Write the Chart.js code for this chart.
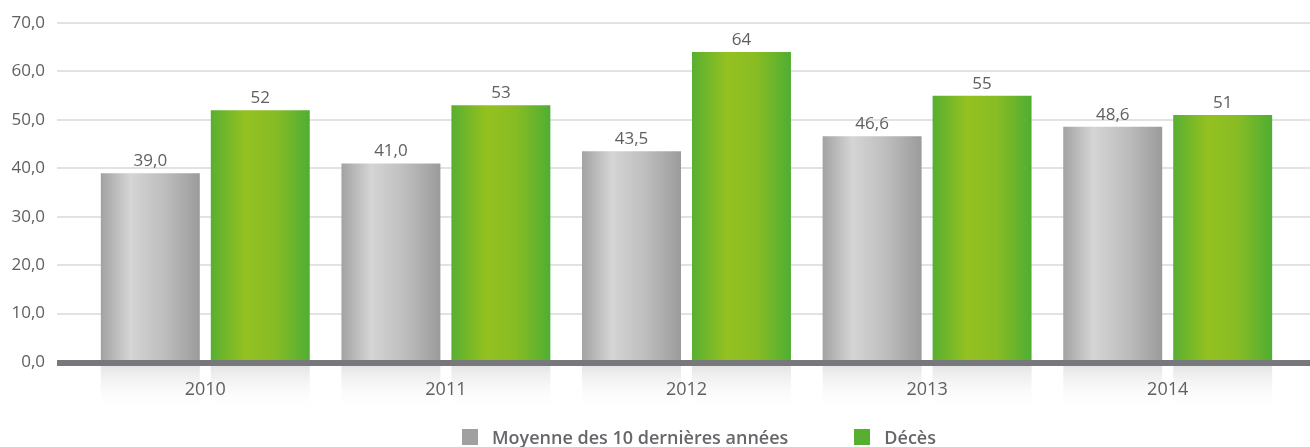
<!DOCTYPE html>
<html lang="fr">
<head>
    <meta charset="UTF-8">
    <title>Décès</title>
    <script src="https://cdn.jsdelivr.net/npm/chart.js"></script>
    <style>
        body { margin: 0; background: #fff; }
        .wrap { position: relative; width: 1310px; height: 447px; }
        .legend {
            position: absolute; top: 425px; left: 462px;
            font-family: "Open Sans", sans-serif; font-size: 18px; font-weight: 600;
            color: #66676a; display: flex; align-items: center;
        }
        .legend span.box { display: inline-block; width: 16px; height: 16px; margin-right: 14px; }
        .legend .item { display: flex; align-items: center; }
        .legend .item + .item { margin-left: 66px; }
    </style>
</head>
<body>
<div class="wrap">
    <canvas id="chart" width="1310" height="447"></canvas>
    <div class="legend" id="legend"></div>
</div>
<script>
const years = ['2010', '2011', '2012', '2013', '2014'];
const moyenne = [39.0, 41.0, 43.5, 46.6, 48.6];
const deces = [52, 53, 64, 55, 51];
const yTicks = [0, 10, 20, 30, 40, 50, 60, 70];

const seriesNames = ['Moyenne des 10 dernières années', 'Décès'];
const legendColors = ['#a0a0a0', '#58ae31'];

const textColor = '#5f6063';
const CAT_PCT = 0.914, BAR_PCT = 0.9;

function barGradient(ctx) {
    const chart = ctx.chart;
    const xs = chart.scales.x;
    if (!chart.chartArea || !xs) return legendColors[ctx.datasetIndex];
    const catW = chart.chartArea.width / years.length;
    const slot = catW * CAT_PCT / 2;
    const w = slot * BAR_PCT;
    const cx = xs.getPixelForValue(ctx.dataIndex) + (ctx.datasetIndex - 0.5) * slot;
    const g = chart.ctx.createLinearGradient(cx - w / 2, 0, cx + w / 2, 0);
    if (ctx.datasetIndex === 0) {
        g.addColorStop(0, '#a2a2a2');
        g.addColorStop(0.3, '#d5d5d5');
        g.addColorStop(0.65, '#bdbdbd');
        g.addColorStop(1, '#9b9b9b');
    } else {
        g.addColorStop(0, '#58af31');
        g.addColorStop(0.35, '#94c120');
        g.addColorStop(0.65, '#88bc24');
        g.addColorStop(1, '#4fae33');
    }
    return g;
}

// grille étendue + ligne du zéro + reflets
const decor = {
    id: 'decor',
    beforeDraw(chart) {
        const c = chart.ctx, y = chart.scales.y;
        c.save();
        c.strokeStyle = '#e2e2e2';
        c.lineWidth = 2;
        yTicks.forEach(t => {
            if (t === 0) return;
            const py = Math.round(y.getPixelForValue(t));
            c.beginPath(); c.moveTo(57, py); c.lineTo(1310, py); c.stroke();
        });
        // reflets sous les barres
        const base = y.getPixelForValue(0) + 3;
        chart.data.datasets.forEach((ds, i) => {
            chart.getDatasetMeta(i).data.forEach(el => {
                const g = c.createLinearGradient(0, base, 0, base + 46);
                g.addColorStop(0, '#e4e4e4');
                g.addColorStop(1, 'rgba(255,255,255,0)');
                c.fillStyle = g;
                c.fillRect(el.x - el.width / 2, base, el.width, 46);
            });
        });
        c.restore();
    },
    afterDatasetsDraw(chart) {
        const c = chart.ctx, y = chart.scales.y;
        c.save();
        const py = y.getPixelForValue(0);
        c.fillStyle = '#77787b';
        c.fillRect(57, py - 2, 1310 - 57, 6);
        // étiquettes
        c.fillStyle = textColor;
        c.font = '17px "Open Sans", sans-serif';
        c.textAlign = 'center';
        c.textBaseline = 'alphabetic';
        chart.data.datasets.forEach((ds, i) => {
            chart.getDatasetMeta(i).data.forEach((el, j) => {
                const v = ds.data[j];
                const txt = i === 0 ? v.toFixed(1).replace('.', ',') : String(Math.round(v));
                c.fillText(txt, el.x, el.y - 7);
            });
        });
        c.restore();
    }
};

new Chart(document.getElementById('chart'), {
    type: 'bar',
    data: {
        labels: years,
        datasets: [
            { label: seriesNames[0], data: moyenne, backgroundColor: barGradient },
            { label: seriesNames[1], data: deces, backgroundColor: barGradient }
        ]
    },
    options: {
        responsive: false,
        animation: false,
        categoryPercentage: CAT_PCT,
        barPercentage: BAR_PCT,
        layout: { padding: { top: 23, right: 22, bottom: 47, left: 0 } },
        plugins: { legend: { display: false }, tooltip: { enabled: false } },
        scales: {
            x: {
                afterFit: s => { s.height = 38; },
                grid: { display: false, drawTicks: false },
                border: { display: false },
                ticks: { color: textColor, font: { family: 'Open Sans', size: 18 }, padding: 17 }
            },
            y: {
                min: 0, max: 70,
                afterBuildTicks: s => { s.ticks = yTicks.map(v => ({ value: v })); },
                afterFit: s => { s.width = 85; s.paddingTop = 0; s.paddingBottom = 0; },
                grid: { display: false, drawTicks: false },
                border: { display: false },
                ticks: {
                    color: textColor, padding: 40,
                    font: { family: 'Open Sans', size: 17 },
                    callback: v => v.toFixed(1).replace('.', ',')
                }
            }
        }
    },
    plugins: [decor]
});

const leg = document.getElementById('legend');
seriesNames.forEach((n, i) => {
    const it = document.createElement('div');
    it.className = 'item';
    it.innerHTML = '<span class="box" style="background:' + legendColors[i] + '"></span>' + n;
    leg.appendChild(it);
});
</script>
</body>
</html>
